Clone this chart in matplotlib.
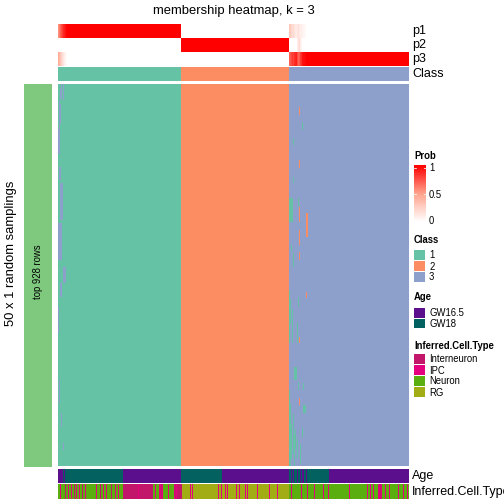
import numpy as np
import matplotlib
matplotlib.use("Agg")
import matplotlib.pyplot as plt
from matplotlib.colors import ListedColormap, LinearSegmentedColormap

plt.rcParams['font.family'] = ['Liberation Sans', 'DejaVu Sans']

# ---- data ----
class_names = ["1", "2", "3"]
class_sizes = [123, 108, 120]          # samples per class, left to right
n_rows = 382                            # sampling rows in the body

# membership probabilities for the uncertain samples at the start of class blocks
p1_head_c1 = [0.55, 0.62, 0.70, 0.76, 0.82, 0.87, 0.91, 0.95, 0.98]
p1_head_c3 = [0.30, 0.28, 0.22, 0.18, 0.20, 0.15, 0.12, 0.10, 0.14,
              0.16, 0.10, 0.08, 0.10, 0.06, 0.05, 0.04, 0.03]
p2_head_c3 = [0.00, 0.00, 0.00, 0.00, 0.00, 0.00, 0.00, 0.00, 0.10,
              0.15, 0.18, 0.10, 0.05, 0.00, 0.00, 0.00, 0.00]

# off-class streaks in the body: (col0, col1, row0, row1, class index)
streaks = [
    (2, 3, 5, 14, 2), (3, 4, 0, 16, 2), (5, 6, 0, 16, 2),
    (1, 2, 16, 70, 2), (2, 3, 20, 40, 2), (0, 1, 45, 70, 2),
    (1, 3, 83, 96, 2), (2, 5, 99, 136, 2), (0, 4, 139, 176, 2),
    (5, 8, 183, 199, 2), (2, 4, 199, 213, 2), (0, 1, 223, 249, 2),
    (1, 2, 296, 319, 2), (3, 4, 329, 343, 2), (5, 6, 359, 366, 2),
    (241, 242, 23, 31, 1), (241, 242, 76, 84, 1), (241, 242, 123, 138, 1),
    (248, 250, 129, 153, 1), (241, 242, 146, 161, 1), (241, 242, 168, 176, 1),
    (248, 249, 208, 214, 1), (241, 242, 253, 259, 1), (241, 242, 314, 321, 1),
    (244, 245, 39, 46, 0), (235, 236, 54, 61, 0), (235, 236, 93, 99, 0),
    (231, 235, 114, 138, 0), (240, 241, 114, 123, 0), (233, 234, 161, 168, 0),
    (235, 236, 169, 183, 0), (231, 232, 206, 259, 0), (232, 233, 215, 240, 0),
    (234, 235, 225, 259, 0), (240, 241, 213, 223, 0), (239, 240, 239, 259, 0),
    (236, 239, 283, 296, 0), (240, 241, 298, 306, 0), (245, 246, 299, 306, 0),
    (245, 248, 321, 329, 0), (231, 232, 306, 382, 0), (232, 233, 320, 382, 0),
    (233, 234, 340, 375, 0), (235, 236, 330, 370, 0), (236, 237, 350, 382, 0),
    (237, 238, 345, 365, 0), (239, 240, 355, 375, 0), (242, 243, 360, 380, 0),
    (244, 245, 344, 353, 0),
]

age_names = ["GW16.5", "GW18"]
age_runs = [(0, 5), (1, 1), (0, 1), (1, 58), (0, 58), (1, 41), (0, 67),
            (1, 2), (0, 1), (1, 1), (0, 1), (1, 3), (0, 1), (1, 2), (0, 1),
            (1, 1), (0, 2), (1, 2), (0, 1), (1, 22), (0, 80)]

cell_names = ["Interneuron", "IPC", "Neuron", "RG"]
cell_base = [(2, 65), (0, 30), (2, 28), (3, 108), (2, 120)]
cell_stripes = [
    (2, 1), (7, 0), (10, 1), (13, 1), (16, 0), (18, 1), (21, 1), (24, 0),
    (27, 1), (38, 1), (42, 0), (45, 1), (48, 1), (53, 0), (57, 1), (60, 1),
    (80, 1), (97, 1), (101, 1), (102, 1), (103, 0), (104, 1), (110, 1),
    (116, 1), (117, 0), (118, 1), (119, 0), (120, 0), (121, 0), (122, 0),
    (123, 0), (132, 1), (134, 1), (160, 1), (163, 1), (167, 1), (169, 1),
    (178, 1), (181, 1), (187, 1), (189, 1), (199, 1), (211, 1), (219, 1),
    (233, 1), (243, 1), (249, 1), (256, 1), (265, 1), (270, 1), (291, 1),
    (309, 1), (312, 1), (315, 1), (320, 1), (321, 1), (322, 0), (323, 1),
    (327, 1), (331, 1), (340, 1), (345, 1), (349, 1),
]

class_colors = ["#66C2A5", "#FC8D62", "#8DA0CB"]
age_colors = ["#5B0F8D", "#03625F"]
cell_colors = ["#C1166A", "#E4007E", "#5AAE0F", "#A2AC14"]
prob_cmap = LinearSegmentedColormap.from_list(
    "prob", [(0, "#FFFFFF"), (0.5, "#FFA28C"), (1, "#FF0000")])

# ---- assemble matrices ----
n_cols = sum(class_sizes)
col_class = np.repeat(np.arange(3), class_sizes)

probs = np.zeros((3, n_cols))
probs[col_class, np.arange(n_cols)] = 1.0
h = len(p1_head_c1)
probs[0, :h] = p1_head_c1
probs[2, :h] = 1 - np.array(p1_head_c1)
s3 = class_sizes[0] + class_sizes[1]
h3 = len(p1_head_c3)
probs[0, s3:s3 + h3] = p1_head_c3
probs[1, s3:s3 + h3] = p2_head_c3
probs[2, s3:s3 + h3] = 1 - np.array(p1_head_c3) - np.array(p2_head_c3)

body = np.tile(col_class, (n_rows, 1))
for c0, c1, r0, r1, k in streaks:
    body[r0:r1, c0:c1] = k

age = np.concatenate([[k] * n for k, n in age_runs])
cell = np.concatenate([[k] * n for k, n in cell_base])
for c, k in cell_stripes:
    cell[c] = k

# ---- figure ----
W = H = 504
fig = plt.figure(figsize=(W / 72, H / 72), dpi=72)

FS_ANN = 12.5   # annotation names, row title
FS_LEG = 9.5    # legend labels


def px_axes(x0, y0, x1, y1):
    ax = fig.add_axes([x0 / W, 1 - y1 / H, (x1 - x0) / W, (y1 - y0) / H])
    ax.set_axis_off()
    return ax


def fy(y):
    return 1 - y / H


hx0, hx1 = 58, 409
cls_cmap = ListedColormap(class_colors)

for i, (y0, y1) in enumerate([(24, 38), (38, 52), (52, 66)]):
    ax = px_axes(hx0, y0, hx1, y1)
    ax.imshow(probs[i:i + 1], cmap=prob_cmap, vmin=0, vmax=1,
              aspect="auto", interpolation="nearest")
    fig.text(412 / W, fy((y0 + y1) / 2), f"p{i + 1}", fontsize=FS_ANN, va="center")

ax = px_axes(hx0, 67, hx1, 81)
ax.imshow(col_class[None, :], cmap=cls_cmap, vmin=0, vmax=2,
          aspect="auto", interpolation="nearest")
fig.text(412 / W, fy(74), "Class", fontsize=FS_ANN, va="center")

ax = px_axes(hx0, 84, hx1, 466)
ax.imshow(body, cmap=cls_cmap, vmin=0, vmax=2,
          aspect="auto", interpolation="nearest")

ax = px_axes(hx0, 469, hx1, 483)
ax.imshow(age[None, :], cmap=ListedColormap(age_colors), vmin=0, vmax=1,
          aspect="auto", interpolation="nearest")
fig.text(412 / W, fy(476), "Age", fontsize=FS_ANN, va="center")

ax = px_axes(hx0, 484, hx1, 499)
ax.imshow(cell[None, :], cmap=ListedColormap(cell_colors), vmin=0, vmax=3,
          aspect="auto", interpolation="nearest")
fig.text(412 / W, fy(491.5), "Inferred.Cell.Type", fontsize=FS_ANN, va="center")

# row split bar + titles
ax = px_axes(24, 84, 52, 467)
ax.add_patch(plt.Rectangle((0, 0), 1, 1, color="#7FC97F"))
fig.text(38 / W, fy(272), "top 928 rows", fontsize=9.5, rotation=90,
         ha="center", va="center")
fig.text(11 / W, fy(253), "50 x 1 random samplings", fontsize=13,
         rotation=90, ha="center", va="center")
fig.text(233.5 / W, fy(11), "membership heatmap, k = 3", fontsize=13,
         ha="center", va="center")

# ---- legends ----
lx, lw = 414, 11
fig.text(lx / W, fy(156), "Prob", fontsize=FS_LEG, fontweight="bold", va="center")
ax = px_axes(lx, 165, lx + lw + 1, 222)
ax.imshow(np.linspace(1, 0, 100)[:, None], cmap=prob_cmap, vmin=0, vmax=1,
          aspect="auto", extent=(0, 1, -0.05, 1.05))
ax.set_xlim(0, 1)
ax.set_ylim(-0.05, 1.05)
for v in (0, 0.5, 1):
    ax.plot([0, 0.2], [v, v], color="white", lw=0.8)
    ax.plot([0.8, 1], [v, v], color="white", lw=0.8)
for v, lab in [(1, "1"), (0.5, "0.5"), (0, "0")]:
    fig.text(429 / W, fy(221 - v * 53), lab, fontsize=FS_LEG, va="center")


def discrete_legend(title, ty, names, colors, y0, step):
    fig.text(lx / W, fy(ty), title, fontsize=FS_LEG, fontweight="bold", va="center")
    for j, (n, c) in enumerate(zip(names, colors)):
        yy = y0 + j * step
        a = px_axes(lx, yy, lx + lw, yy + step - 1)
        a.add_patch(plt.Rectangle((0, 0), 1, 1, color=c))
        fig.text(429 / W, fy(yy + step / 2), n, fontsize=FS_LEG, va="center")


discrete_legend("Class", 240, class_names, class_colors, 250, 11)
discrete_legend("Age", 297, age_names, age_colors, 308, 10.5)
discrete_legend("Inferred.Cell.Type", 346, cell_names, cell_colors, 354, 11)

fig.savefig("out.png", dpi=72)
